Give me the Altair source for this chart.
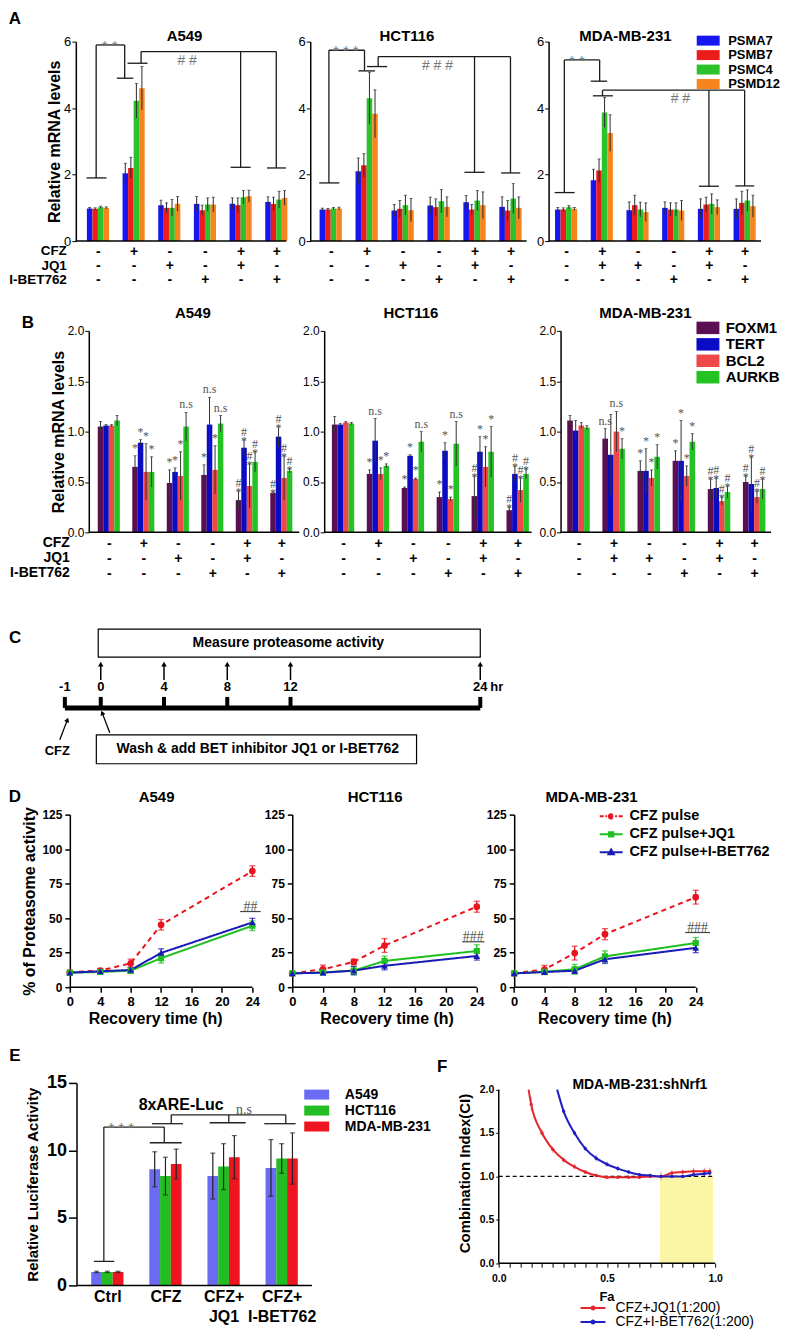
import json
import altair as alt
import pandas as pd

FONT = "Liberation Sans"
SERIF = "Liberation Serif"

# ---------------- treatment design (panels A and B) ----------------
TREAT_ROWS = ["CFZ", "JQ1", "I-BET762"]
CONDITIONS = [0, 1, 2, 3, 4, 5]
CFZ_SIGNS = ["-", "+", "-", "-", "+", "+"]
JQ1_SIGNS = ["-", "-", "+", "-", "+", "-"]
JQ1_SIGNS_MDA = ["-", "+", "+", "-", "+", "-"]
IBET_SIGNS = ["-", "-", "-", "+", "-", "+"]

# ---------------- Panel A: proteasome subunit mRNA ----------------
A_GENES = ["PSMA7", "PSMB7", "PSMC4", "PSMD12"]
A_COLORS = ["#1616f0", "#ec1c1c", "#2bc22b", "#f7851d"]
A549_A_MEAN = [[0.98, 0.97, 1.02, 1.00], [2.04, 2.20, 4.22, 4.60], [1.08, 1.00, 1.00, 1.12],
               [1.12, 0.93, 1.10, 1.10], [1.12, 1.08, 1.32, 1.35], [1.18, 1.12, 1.25, 1.30]]
A549_A_ERR = [[0.03, 0.03, 0.03, 0.03], [0.30, 0.32, 0.52, 0.65], [0.15, 0.15, 0.25, 0.22],
              [0.22, 0.15, 0.20, 0.22], [0.18, 0.22, 0.20, 0.18], [0.15, 0.20, 0.25, 0.22]]
HCT116_A_MEAN = [[0.95, 0.95, 0.98, 0.98], [2.10, 2.28, 4.30, 3.83], [0.92, 0.97, 1.08, 0.93],
                 [1.07, 1.02, 1.20, 1.03], [1.17, 0.95, 1.22, 1.08], [1.03, 0.92, 1.28, 1.00]]
HCT116_A_ERR = [[0.04, 0.03, 0.03, 0.04], [0.40, 0.35, 0.78, 0.72], [0.18, 0.25, 0.30, 0.35],
                [0.25, 0.25, 0.35, 0.30], [0.20, 0.15, 0.30, 0.40], [0.30, 0.30, 0.45, 0.33]]
MDA_A_MEAN = [[0.95, 0.95, 1.02, 0.97], [1.83, 2.12, 3.87, 3.25], [0.93, 1.08, 0.95, 0.87],
              [1.00, 0.95, 0.95, 0.92], [0.97, 1.10, 1.12, 1.02], [0.97, 1.15, 1.22, 1.05]]
MDA_A_ERR = [[0.06, 0.05, 0.05, 0.04], [0.33, 0.35, 0.45, 0.55], [0.25, 0.30, 0.22, 0.28],
             [0.18, 0.20, 0.20, 0.30], [0.30, 0.22, 0.30, 0.22], [0.30, 0.35, 0.32, 0.33]]
# significance bracket heights: ctrl cap, CFZ cap, star top, CFZ cap 2, hash top, cap cond5, cap cond6
A549_A_BRACKET_Y = [1.90, 4.90, 5.90, 5.35, 5.70, 2.22, 2.20]
HCT116_A_BRACKET_Y = [1.75, 5.12, 5.74, 5.25, 5.55, 2.07, 2.05]
MDA_A_BRACKET_Y = [1.46, 4.81, 5.45, 4.37, 4.54, 1.65, 1.66]
A549_A_BRACKET_X = [0.75, 0.76, 1.11, 1.21]
HCT116_A_BRACKET_X = [0.94, 1.00, 1.29, 1.32]
MDA_A_BRACKET_X = [0.94, 0.92, 1.03, 1.02]

# ---------------- Panel B: target gene mRNA ----------------
B_GENES = ["FOXM1", "TERT", "BCL2", "AURKB"]
B_COLORS = ["#5a0f52", "#0b0bc6", "#f04848", "#22c322"]
A549_B_MEAN = [[1.05, 1.06, 1.06, 1.11], [0.65, 0.89, 0.60, 0.60], [0.49, 0.60, 0.56, 1.05],
               [0.57, 1.07, 0.62, 1.08], [0.32, 0.84, 0.46, 0.70], [0.39, 0.95, 0.54, 0.61]]
A549_B_ERR = [[0.05, 0.01, 0.01, 0.05], [0.11, 0.03, 0.28, 0.15], [0.13, 0.04, 0.24, 0.14],
              [0.10, 0.27, 0.24, 0.08], [0.09, 0.08, 0.22, 0.10], [0.01, 0.10, 0.22, 0.02]]
A549_B_SIG = [["", "", "", ""], ["*", "*", "*", "*"], ["*", "*", "*", "n.s"], ["*", "n.s", "*", "n.s"],
              ["#\n*", "#\n*", "#\n*", "#\n*"], ["#\n*", "#\n*", "#\n*", "#\n*"]]
HCT116_B_MEAN = [[1.07, 1.07, 1.09, 1.08], [0.58, 0.91, 0.58, 0.66], [0.44, 0.76, 0.53, 0.90],
                 [0.35, 0.81, 0.33, 0.88], [0.36, 0.80, 0.65, 0.80], [0.22, 0.58, 0.42, 0.58]]
HCT116_B_ERR = [[0.08, 0.01, 0.01, 0.01], [0.04, 0.22, 0.06, 0.02], [0.01, 0.01, 0.01, 0.10],
                [0.05, 0.08, 0.02, 0.22], [0.20, 0.15, 0.20, 0.25], [0.03, 0.08, 0.12, 0.05]]
HCT116_B_SIG = [["", "", "", ""], ["*", "n.s", "*", "*"], ["*", "*", "*", "n.s"], ["*", "*", "*", "n.s"],
                ["#\n*", "*", "*", "*"], ["#\n*", "#\n*", "#\n*", "#\n*"]]
MDA_B_MEAN = [[1.11, 1.01, 1.06, 1.04], [0.93, 0.77, 1.00, 0.83], [0.61, 0.61, 0.54, 0.75],
              [0.71, 0.71, 0.56, 0.90], [0.43, 0.44, 0.31, 0.40], [0.50, 0.48, 0.35, 0.43]]
MDA_B_ERR = [[0.05, 0.10, 0.03, 0.02], [0.10, 0.40, 0.20, 0.10], [0.10, 0.22, 0.08, 0.12],
             [0.10, 0.40, 0.10, 0.08], [0.10, 0.10, 0.04, 0.06], [0.06, 0.27, 0.06, 0.10]]
MDA_B_SIG = [["", "", "", ""], ["n.s", "", "n.s", "*"], ["*", "*", "*", "*"], ["*", "*", "*", "*"],
             ["#\n*", "#\n*", "#\n*", "#\n*"], ["#\n*", "#\n*", "#\n*", "#\n*"]]

# ---------------- Panel C: schedule ----------------
C_TICK_HOURS = ["-1", "0", "4", "8", "12", "24"]
C_TICK_POS = [-2.27, 0, 4, 8, 12, 24]          # -1 h drawn closer (axis break)
C_ASSAY_HOURS = [0, 4, 8, 12, 24]
C_TEXT_TOP = "Measure proteasome activity"
C_TEXT_BOTTOM = "Wash & add BET inhibitor JQ1 or I-BET762"

# ---------------- Panel D: proteasome activity recovery ----------------
D_TIMES = [0, 4, 8, 12, 24]
D_SERIES = ["CFZ pulse", "CFZ pulse+JQ1", "CFZ pulse+I-BET762"]
D_COLORS = ["#e8141e", "#1fbf1f", "#1a1ab4"]
D_MARKERS = ["circle", "square", "triangle-up"]
A549_D_CFZ = [10.8, 12.0, 17.3, 45.2, 84.1]
A549_D_CFZ_ERR = [1.0, 1.5, 3.0, 3.8, 3.8]
A549_D_JQ1 = [10.5, 11.0, 12.0, 21.0, 44.5]
A549_D_JQ1_ERR = [1.0, 1.5, 2.0, 3.5, 3.5]
A549_D_IBET = [10.5, 11.5, 12.5, 24.8, 46.9]
A549_D_IBET_ERR = [1.0, 1.5, 2.0, 3.0, 3.0]
HCT116_D_CFZ = [10.0, 13.0, 18.3, 30.2, 58.3]
HCT116_D_CFZ_ERR = [1.0, 3.0, 2.0, 5.0, 4.0]
HCT116_D_JQ1 = [10.0, 10.7, 12.0, 19.0, 26.2]
HCT116_D_JQ1_ERR = [1.0, 1.5, 3.0, 3.5, 4.5]
HCT116_D_IBET = [10.0, 10.5, 12.0, 15.5, 22.6]
HCT116_D_IBET_ERR = [1.0, 1.5, 3.0, 3.0, 3.0]
MDA_D_CFZ = [10.0, 12.8, 24.7, 38.4, 65.2]
MDA_D_CFZ_ERR = [1.0, 3.0, 5.0, 4.0, 5.0]
MDA_D_JQ1 = [10.0, 11.1, 13.0, 22.3, 32.0]
MDA_D_JQ1_ERR = [1.0, 2.0, 3.5, 4.0, 4.0]
MDA_D_IBET = [10.0, 11.0, 11.9, 20.2, 28.5]
MDA_D_IBET_ERR = [1.0, 1.5, 2.0, 3.0, 3.5]

# ---------------- Panel E: luciferase ----------------
E_GROUPS = [["Ctrl"], ["CFZ"], ["CFZ+", "JQ1"], ["CFZ+", "I-BET762"]]
E_LINES = ["A549", "HCT116", "MDA-MB-231"]
E_COLORS = ["#6a6af2", "#22bd22", "#ef1520"]
E_A549 = [1.0, 8.6, 8.1, 8.7]
E_A549_ERR = [0.05, 1.3, 1.7, 2.1]
E_HCT116 = [1.0, 8.1, 8.8, 9.4]
E_HCT116_ERR = [0.05, 1.4, 1.7, 1.1]
E_MDA = [1.0, 9.0, 9.5, 9.4]
E_MDA_ERR = [0.05, 1.1, 1.6, 1.9]

# ---------------- Panel F: combination index ----------------
F_SERIES = ["CFZ+JQ1(1:200)", "CFZ+I-BET762(1:200)"]
F_COLORS = ["#e3262b", "#1f1fc4"]
F_FA_JQ1 = [0.138, 0.15, 0.20, 0.25, 0.30, 0.35, 0.40, 0.45, 0.50, 0.55, 0.60, 0.65, 0.70, 0.75, 0.80, 0.85, 0.90, 0.95, 0.975]
F_CI_JQ1 = [2.00, 1.83, 1.50, 1.31, 1.19, 1.11, 1.05, 1.01, 0.99, 0.99, 0.99, 0.99, 1.00, 1.00, 1.04, 1.05, 1.06, 1.06, 1.06]
F_ERR_JQ1 = [0.0, 0.08, 0.04, 0.04, 0.03, 0.03, 0.02, 0.02, 0.02, 0.02, 0.02, 0.02, 0.02, 0.05, 0.03, 0.03, 0.04, 0.04, 0.04]
F_FA_IBET = [0.27, 0.30, 0.35, 0.40, 0.45, 0.50, 0.55, 0.60, 0.65, 0.70, 0.75, 0.80, 0.85, 0.90, 0.95, 0.975]
F_CI_IBET = [2.00, 1.75, 1.50, 1.32, 1.21, 1.14, 1.09, 1.05, 1.02, 1.01, 1.00, 1.00, 1.00, 1.02, 1.03, 1.04]
F_ERR_IBET = [0.0, 0.03, 0.03, 0.03, 0.04, 0.03, 0.03, 0.02, 0.02, 0.02, 0.02, 0.02, 0.02, 0.02, 0.03, 0.03]
F_SYNERGY_FA = [0.745, 0.99]
F_REF_CI = 1.0

RECT_A = "M-2.3,-1H2.3V1H-2.3Z"
RECT_B = "M-1.84,-1H1.84V1H-1.84Z"
RECT_E = "M-2.5,-1H2.5V1H-2.5Z"
D_LEGEND_SYMBOLS = [
    "M-2.3,0H-1.5M-1.15,0H-0.8M0.8,0H1.15M1.5,0H2.3M-0.45,0A0.45,0.45 0 1,1 0.45,0A0.45,0.45 0 1,1 -0.45,0Z",
    "M-2.3,0H2.3M-0.42,-0.42H0.42V0.42H-0.42Z",
    "M-2.3,0H2.3M0,-0.55L0.55,0.42H-0.55Z",
]
F_LEGEND_SYMBOL = "M-2.5,0H2.5M-0.3,0A0.3,0.3 0 1,1 0.3,0A0.3,0.3 0 1,1 -0.3,0Z"

# ---------------- page layout (page pixels) ----------------
ROW_BOUNDS = {"A": (8, 296), "B": (296, 600), "C": (600, 780), "D": (780, 1038), "EF": (1038, 1300)}


def frame(L, R, axis_px, dom, vis_w):
    """Panel spanning page x L..R whose y axis sits at axis_px and whose visible domain spans vis_w px."""
    k = vis_w / (dom[1] - dom[0])
    return dict(L=L, domain=[dom[0] + (L - axis_px) / k, dom[0] + (R - axis_px) / k],
                width=R - L, lead=axis_px - L)


def text_mark(text, x, y, size, weight="bold", opacity=1.0, align="center",
              baseline="middle", font=FONT, color="black", line_height=None):
    kw = dict(font=font, fontSize=size, fontWeight=weight, opacity=opacity, align=align,
              baseline=baseline, color=color)
    if line_height is not None:
        kw["lineBreak"] = "\n"
        kw["lineHeight"] = line_height
    return alt.Chart(pd.DataFrame({"t": [text]})).mark_text(**kw).encode(
        text="t:N", x=alt.value(x), y=alt.value(y))


def ghost(row, top_y):
    """Invisible rule fixing the row's vertical extent on the page."""
    top, bottom = ROW_BOUNDS[row]
    return alt.Chart(pd.DataFrame({"g": [0]})).mark_rule(opacity=0, strokeWidth=0.1).encode(
        x=alt.value(0), y=alt.value(top - top_y), y2=alt.value(bottom - top_y))


def bar_frame(means, errs, genes, bw, sig=None):
    rows = []
    ng = len(genes)
    for c in range(len(means)):
        for g in range(ng):
            m = means[c][g]
            e = errs[c][g]
            xc = c + (g - (ng - 1) / 2) * bw
            rows.append(dict(cond=c, gene=genes[g], mean=m, lo=m - e, hi=m + e, xc=xc,
                             x0=xc - bw / 2, x1=xc + bw / 2, sig=(sig[c][g] if sig else "")))
    return pd.DataFrame(rows)


def sign_label_expr(jq1):
    arr = [[c, j, i] for c, j, i in zip(CFZ_SIGNS, jq1, IBET_SIGNS)]
    return json.dumps(arr) + "[datum.value]"


def a_segments(bys, bxs):
    c0, c1, top, c1b, top2, c4, c5 = bys
    sxr, c1x, c1bx, hx = bxs
    segs = [(-0.32, 0.24, c0, c0), (-0.05, -0.05, c0, top), (-0.05, sxr, top, top),
            (sxr, sxr, top, c1), (c1x - 0.23, c1x + 0.23, c1, c1),
            (c1bx - 0.28, c1bx + 0.28, c1b, c1b), (hx, hx, c1b, top2), (hx, 5.0, top2, top2),
            (4.0, 4.0, top2, c4), (3.72, 4.28, c4, c4), (5.0, 5.0, top2, c5), (4.74, 5.27, c5, c5)]
    return pd.DataFrame(segs, columns=["bx", "bx2", "by", "by2"])


def panel_a(cell, means, errs, jq1, fr, dom, title_px, bys, bxs, star, star_x, hashes, hash_x,
            first=False, legend=False):
    H, top_y, L, lead = 200, 40, fr["L"], fr["lead"]
    df = bar_frame(means, errs, A_GENES, 0.155)
    xs = alt.Scale(domain=fr["domain"], nice=False, zero=False)
    ys = alt.Scale(domain=[0, 6], nice=False)
    xaxis = alt.Axis(values=CONDITIONS, labelExpr=sign_label_expr(jq1), ticks=False, tickSize=0,
                     labelPadding=3, labelFontSize=14, labelFontWeight="bold", labelLineHeight=14.5,
                     labelOverlap=False, labelFlush=False, labelBaseline="top", title=None,
                     grid=False, domain=False)
    yaxis = alt.Axis(values=[0, 2, 4, 6], title=("Relative mRNA levels" if first else None),
                     tickSize=4, labelPadding=1, labelFontSize=13, titleFontSize=16, offset=-lead,
                     titleFontWeight="bold", titlePadding=1, grid=False, domainWidth=1.5)

    def X(f):
        return alt.X(f"{f}:Q", scale=xs, axis=xaxis)

    def Y(f):
        return alt.Y(f"{f}:Q", scale=ys, axis=yaxis)

    leg = alt.Legend(orient="none", legendX=703.5 - L, legendY=-7.5, title=None, symbolType=RECT_A,
                     symbolSize=100, symbolStrokeWidth=0, labelFontSize=13, labelFontWeight="bold",
                     labelOffset=13.5, rowPadding=0.5, padding=0) if legend else None
    color = alt.Color("gene:N", scale=alt.Scale(domain=A_GENES, range=A_COLORS), legend=leg)
    base = alt.Chart(pd.DataFrame({"x0": [dom[0]], "x1": [dom[1]], "y": [0]})).mark_rule(
        color="black", strokeWidth=1.5).encode(x=X("x0"), x2="x1", y=Y("y"))
    bars = alt.Chart(df).mark_bar().encode(x=X("x0"), x2="x1", y=Y("mean"), y2=alt.datum(0), color=color)
    err = alt.Chart(df).mark_rule(color="#2a2a2a", strokeWidth=1).encode(x=X("xc"), y=Y("lo"), y2="hi")
    caps = alt.Chart(df).mark_tick(orient="horizontal", size=3, thickness=1, color="#2a2a2a").encode(
        x=X("xc"), y=Y("hi"))
    br = alt.Chart(a_segments(bys, bxs)).mark_rule(color="#1a1a1a", strokeWidth=1.3).encode(
        x=X("bx"), x2="bx2", y=Y("by"), y2="by2")
    lab_star = alt.Chart(pd.DataFrame({"bx": [star_x], "by": [bys[2]], "t": [star]})).mark_text(
        font=FONT, fontSize=15, color="#777777", baseline="alphabetic", dy=6).encode(
        x=X("bx"), y=Y("by"), text="t:N")
    lab_hash = alt.Chart(pd.DataFrame({"bx": [hash_x], "by": [bys[4]], "t": [hashes]})).mark_text(
        font=FONT, fontSize=14, color="#777777", baseline="top", dy=2).encode(
        x=X("bx"), y=Y("by"), text="t:N")
    layers = [bars, base, err, caps, br, lab_star, lab_hash,
              text_mark(cell, title_px - L, -6, 15), ghost("A", top_y)]
    if first:
        layers.append(text_mark("A", 15 - L, -22.5, 17))
        layers.append(text_mark("\n".join(TREAT_ROWS), 67 - L, H + 3, 13.5, align="right",
                                baseline="top", line_height=14.5))
    return alt.layer(*layers).properties(width=fr["width"], height=H)


def panel_b(cell, means, errs, sig, jq1, fr, dom, title_px, first=False, legend=False):
    H, top_y, L, lead = 202, 330, fr["L"], fr["lead"]
    df = bar_frame(means, errs, B_GENES, 0.16, sig)
    xs = alt.Scale(domain=fr["domain"], nice=False, zero=False)
    ys = alt.Scale(domain=[0, 2], nice=False)
    xaxis = alt.Axis(values=CONDITIONS, labelExpr=sign_label_expr(jq1), ticks=False, tickSize=0,
                     labelPadding=4, labelFontSize=14, labelFontWeight="bold", labelLineHeight=15,
                     labelOverlap=False, labelFlush=False, labelBaseline="top", title=None,
                     grid=False, domain=False)
    yaxis = alt.Axis(values=[0, 0.5, 1, 1.5, 2], format=".1f",
                     title=("Relative mRNA levels" if first else None), offset=-lead,
                     tickSize=4, labelPadding=1, labelFontSize=12, titleFontSize=16,
                     titleFontWeight="bold", titlePadding=1, grid=False, domainWidth=1.5)

    def X(f):
        return alt.X(f"{f}:Q", scale=xs, axis=xaxis)

    def Y(f):
        return alt.Y(f"{f}:Q", scale=ys, axis=yaxis)

    leg = alt.Legend(orient="none", legendX=702.25 - L, legendY=-10.5, title=None, symbolType=RECT_B,
                     symbolSize=156, symbolStrokeWidth=0, labelFontSize=15, labelFontWeight="bold",
                     labelOffset=10.25, rowPadding=0.5, padding=0) if legend else None
    color = alt.Color("gene:N", scale=alt.Scale(domain=B_GENES, range=B_COLORS), legend=leg)
    base = alt.Chart(pd.DataFrame({"x0": [dom[0]], "x1": [dom[1]], "y": [0]})).mark_rule(
        color="black", strokeWidth=1.5).encode(x=X("x0"), x2="x1", y=Y("y"))
    bars = alt.Chart(df).mark_bar().encode(x=X("x0"), x2="x1", y=Y("mean"), y2=alt.datum(0), color=color)
    err = alt.Chart(df).mark_rule(color="#333333", strokeWidth=1).encode(x=X("xc"), y=Y("lo"), y2="hi")
    caps = alt.Chart(df).mark_tick(orient="horizontal", size=3, thickness=1, color="#333333").encode(
        x=X("xc"), y=Y("hi"))
    sig_txt = alt.Chart(df).transform_filter("datum.sig != ''").mark_text(
        font=SERIF, fontSize=12, color="#555555", baseline="bottom", lineBreak="\n",
        lineHeight=9, dy=-1).encode(x=X("xc"), y=Y("hi"), text="sig:N")
    layers = [bars, base, err, caps, sig_txt, text_mark(cell, title_px - L, -18, 15), ghost("B", top_y)]
    if first:
        layers.append(text_mark("B", 28 - L, -8, 17))
        layers.append(text_mark("\n".join(TREAT_ROWS), 70 - L, H + 4, 14, align="right",
                                baseline="top", line_height=15))
    return alt.layer(*layers).properties(width=fr["width"], height=H)


def panel_c():
    W, H = 500, 150
    xs = alt.Scale(domain=[-5.866, 25.672], nice=False, zero=False)
    ys = alt.Scale(domain=[0, H], nice=False, reverse=True)

    def X(f):
        return alt.X(f"{f}:Q", scale=xs, axis=None)

    def Y(f):
        return alt.Y(f"{f}:Q", scale=ys, axis=None)

    boxes = pd.DataFrame({"x0": [-0.16, -0.28], "x1": [24.0, 19.97], "y0": [9, 115], "y1": [37, 144],
                          "xt": [11.86, 9.93], "yt": [23, 129.5], "t": [C_TEXT_TOP, C_TEXT_BOTTOM]})
    box = alt.Chart(boxes).mark_rect(fill="white", stroke="black", strokeWidth=1.2).encode(
        x=X("x0"), x2="x1", y=Y("y0"), y2="y1")
    box_txt = alt.Chart(boxes).mark_text(font=FONT, fontSize=14, fontWeight="bold").encode(
        x=X("xt"), y=Y("yt"), text="t:N")
    line = alt.Chart(pd.DataFrame({"x0": [C_TICK_POS[0]], "x1": [C_TICK_POS[-1]], "y": [88]})).mark_rule(
        strokeWidth=5, color="black").encode(x=X("x0"), x2="x1", y=Y("y"))
    ticks_df = pd.DataFrame({"x": C_TICK_POS, "y0": [77] * 6, "y1": [88] * 6, "lab": C_TICK_HOURS,
                             "ly": [67] * 6})
    ticks = alt.Chart(ticks_df).mark_rule(strokeWidth=4, color="black").encode(
        x=X("x"), y=Y("y0"), y2="y1")
    tick_lab = alt.Chart(ticks_df).mark_text(font=FONT, fontSize=13, fontWeight="bold").encode(
        x=X("x"), y=Y("ly"), text="lab:N")
    hr_lab = alt.Chart(pd.DataFrame({"x": [C_TICK_POS[-1]], "y": [67], "t": ["hr"]})).mark_text(
        font=FONT, fontSize=13, fontWeight="bold", align="left", dx=10).encode(
        x=X("x"), y=Y("y"), text="t:N")
    arr_df = pd.DataFrame({"x": C_ASSAY_HOURS, "y0": [60] * 5, "y1": [44] * 5})
    arrows = alt.Chart(arr_df).mark_rule(strokeWidth=1.5, color="black").encode(x=X("x"), y=Y("y0"), y2="y1")
    heads = alt.Chart(arr_df).mark_point(shape="triangle-up", filled=True, size=30, color="black",
                                         opacity=1).encode(x=X("x"), y=Y("y1"))
    slant = pd.DataFrame({"x0": [-2.59, 0.57], "y0": [120, 113], "x1": [-2.11, 0.09], "y1": [100, 93]})
    slant_l = alt.Chart(slant).mark_rule(strokeWidth=1.3, color="black").encode(
        x=X("x0"), x2="x1", y=Y("y0"), y2="y1")
    head1 = alt.Chart(slant.iloc[[0]]).mark_point(shape="triangle-up", filled=True, size=28, color="black",
                                                  angle=21, opacity=1).encode(x=X("x1"), y=Y("y1"))
    head2 = alt.Chart(slant.iloc[[1]]).mark_point(shape="triangle-up", filled=True, size=28, color="black",
                                                  angle=339, opacity=1).encode(x=X("x1"), y=Y("y1"))
    cfz = alt.Chart(pd.DataFrame({"x": [-2.75], "y": [131], "t": ["CFZ"]})).mark_text(
        font=FONT, fontSize=13, fontWeight="bold").encode(x=X("x"), y=Y("y"), text="t:N")
    letter = alt.Chart(pd.DataFrame({"x": [-5.42], "y": [18], "t": ["C"]})).mark_text(
        font=FONT, fontSize=17, fontWeight="bold").encode(x=X("x"), y=Y("y"), text="t:N")
    return alt.layer(box, box_txt, line, ticks, tick_lab, hr_lab, arrows, heads, slant_l, head1, head2,
                     cfz, letter, ghost("C", 620)).properties(width=W, height=H)


def panel_d(cell, vals, errs, fr, title_px, xtitle_px, hashes, hash_y, hx0, hx1, first=False, legend=False):
    H, top_y, L, lead = 173, 815, fr["L"], fr["lead"]
    rows = []
    for s, vv, ee in zip(D_SERIES, vals, errs):
        for t, v, e in zip(D_TIMES, vv, ee):
            rows.append(dict(series=s, t=t, v=v, lo=v - e, hi=v + e))
    df = pd.DataFrame(rows)
    xs = alt.Scale(domain=fr["domain"], nice=False, zero=False)
    ys = alt.Scale(domain=[0, 125], nice=False)
    xaxis = alt.Axis(values=[0, 4, 8, 12, 16, 20, 24], title=None,
                     tickSize=5, labelPadding=3, labelFontSize=13, labelFontWeight="bold",
                     labelFlush=False, grid=False, domain=False, tickWidth=1.5)
    yaxis = alt.Axis(values=[0, 25, 50, 75, 100, 125], offset=-lead,
                     title=("% of Proteasome activity" if first else None), tickSize=5,
                     labelPadding=3, labelFontSize=12, labelFontWeight="bold", titleFontSize=16,
                     titleFontWeight="bold", titlePadding=4, grid=False, domainWidth=1.5, tickWidth=1.5)

    def X(f):
        return alt.X(f"{f}:Q", scale=xs, axis=xaxis)

    def Y(f):
        return alt.Y(f"{f}:Q", scale=ys, axis=yaxis)

    cscale = alt.Scale(domain=D_SERIES, range=D_COLORS)
    col = alt.Color("series:N", scale=cscale, legend=None)
    dash = alt.StrokeDash("series:N", scale=alt.Scale(domain=D_SERIES, range=[[5, 4], [1, 0], [1, 0]]),
                          legend=None)
    layers = []
    if legend:
        # invisible layer that carries the legend (line + marker symbols)
        leg = alt.Legend(orient="none", legendX=605 - L, legendY=-5.5, title=None, symbolSize=100,
                         symbolStrokeWidth=2, symbolOpacity=1, labelFontSize=14.5, labelFontWeight="bold",
                         labelOffset=11, rowPadding=3, padding=0)
        layers.append(alt.Chart(df).mark_point(opacity=0, strokeWidth=2, filled=False).encode(
            x=X("t"), y=Y("v"),
            color=alt.Color("series:N", scale=cscale, legend=leg),
            shape=alt.Shape("series:N", scale=alt.Scale(domain=D_SERIES, range=D_LEGEND_SYMBOLS),
                            legend=leg)))
    layers.append(alt.Chart(pd.DataFrame({"x0": [0], "x1": [24], "y": [0]})).mark_rule(
        color="black", strokeWidth=1.5).encode(x=X("x0"), x2="x1", y=Y("y")))
    layers.append(alt.Chart(df).mark_rule(strokeWidth=1.3).encode(x=X("t"), y=Y("lo"), y2="hi", color=col))
    layers.append(alt.Chart(df).mark_tick(orient="horizontal", size=6, thickness=1.3).encode(
        x=X("t"), y=Y("hi"), color=col))
    layers.append(alt.Chart(df).mark_tick(orient="horizontal", size=6, thickness=1.3).encode(
        x=X("t"), y=Y("lo"), color=col))
    layers.append(alt.Chart(df).mark_line(strokeWidth=2).encode(
        x=X("t"), y=Y("v"), color=col, strokeDash=dash))
    for s, shp, sz in zip(D_SERIES, D_MARKERS, [45, 38, 45]):
        layers.append(alt.Chart(df).transform_filter(alt.datum.series == s).mark_point(
            shape=shp, filled=True, size=sz, opacity=1).encode(x=X("t"), y=Y("v"), color=col))
    ann = pd.DataFrame({"x0": [hx0], "x1": [hx1], "xm": [(hx0 + hx1) / 2], "y": [hash_y], "t": [hashes]})
    layers.append(alt.Chart(ann).mark_rule(color="#444444", strokeWidth=1.2).encode(
        x=X("x0"), x2="x1", y=Y("y")))
    layers.append(alt.Chart(ann).mark_text(font=SERIF, fontSize=14, color="#555555",
                                           baseline="alphabetic", dy=-1).encode(
        x=X("xm"), y=Y("y"), text="t:N"))
    layers.append(text_mark(cell, title_px - L, -18, 15))
    layers.append(text_mark("Recovery time (h)", xtitle_px - L, H + 32, 16))
    layers.append(ghost("D", top_y))
    if first:
        layers.append(text_mark("D", 15 - L, -18, 17))
    return alt.layer(*layers).properties(width=fr["width"], height=H)


def panel_e(fr, dom):
    H, top_y, L, lead = 203, 1083.3, fr["L"], fr["lead"]
    means = [list(v) for v in zip(E_A549, E_HCT116, E_MDA)]
    errs = [list(v) for v in zip(E_A549_ERR, E_HCT116_ERR, E_MDA_ERR)]
    df = bar_frame(means, errs, E_LINES, 0.185)
    xs = alt.Scale(domain=fr["domain"], nice=False, zero=False)
    ys = alt.Scale(domain=[0, 15], nice=False)
    xaxis = alt.Axis(values=[0, 1, 2, 3], labelExpr=json.dumps(E_GROUPS) + "[datum.value]", ticks=False,
                     tickSize=0, labelPadding=3, labelFontSize=16, labelFontWeight="bold",
                     labelLineHeight=20, labelOverlap=False, labelFlush=False, labelBaseline="top",
                     title=None, grid=False, domain=False)
    yaxis = alt.Axis(values=[0, 5, 10, 15], title="Relative Luciferase Activity", tickSize=8, offset=-lead,
                     labelPadding=2, labelFontSize=18, labelFontWeight="bold", titleFontSize=15,
                     titleFontWeight="bold", titlePadding=6, grid=False, domainWidth=1.5, tickWidth=1.5)

    def X(f):
        return alt.X(f"{f}:Q", scale=xs, axis=xaxis)

    def Y(f):
        return alt.Y(f"{f}:Q", scale=ys, axis=yaxis)

    leg = alt.Legend(orient="none", legendX=310.5 - L, legendY=4.7, title=None, symbolType=RECT_E,
                     symbolSize=100, symbolStrokeWidth=0, labelFontSize=14, labelFontWeight="bold",
                     labelOffset=21.2, rowPadding=2, padding=0)
    color = alt.Color("gene:N", scale=alt.Scale(domain=E_LINES, range=E_COLORS), legend=leg)
    base = alt.Chart(pd.DataFrame({"x0": [dom[0]], "x1": [dom[1]], "y": [0]})).mark_rule(
        color="black", strokeWidth=1.5).encode(x=X("x0"), x2="x1", y=Y("y"))
    bars = alt.Chart(df).mark_bar().encode(x=X("x0"), x2="x1", y=Y("mean"), y2=alt.datum(0), color=color)
    err = alt.Chart(df).mark_rule(color="#222222", strokeWidth=1.2).encode(x=X("xc"), y=Y("lo"), y2="hi")
    cap_hi = alt.Chart(df).mark_tick(orient="horizontal", size=5, thickness=1.2, color="#222222").encode(
        x=X("xc"), y=Y("hi"))
    cap_lo = alt.Chart(df).mark_tick(orient="horizontal", size=5, thickness=1.2, color="#222222").encode(
        x=X("xc"), y=Y("lo"))
    segs = pd.DataFrame([(-0.23, 0.12, 1.78, 1.78), (-0.06, -0.06, 1.78, 11.73), (-0.06, 0.98, 11.73, 11.73),
                         (0.98, 0.98, 11.73, 10.57), (0.73, 1.28, 10.57, 10.57),
                         (0.77, 1.30, 11.98, 11.98), (1.10, 1.10, 11.98, 12.64), (1.10, 3.07, 12.64, 12.64),
                         (1.76, 2.38, 12.05, 12.05), (2.09, 2.09, 12.05, 12.64),
                         (2.70, 3.24, 11.98, 11.98), (3.07, 3.07, 11.98, 12.64)],
                        columns=["bx", "bx2", "by", "by2"])
    br = alt.Chart(segs).mark_rule(color="#222222", strokeWidth=1.3).encode(
        x=X("bx"), x2="bx2", y=Y("by"), y2="by2")
    star = alt.Chart(pd.DataFrame({"x": [0.24], "y": [11.73], "t": ["* * *"]})).mark_text(
        font=FONT, fontSize=15, color="#777777", baseline="alphabetic", dy=6).encode(
        x=X("x"), y=Y("y"), text="t:N")
    ns = alt.Chart(pd.DataFrame({"x": [2.35], "y": [12.64], "t": ["n.s"]})).mark_text(
        font=SERIF, fontSize=14, color="#555555", baseline="alphabetic", dy=-1).encode(
        x=X("x"), y=Y("y"), text="t:N")
    label = alt.Chart(pd.DataFrame({"x": [1.27], "y": [13.4], "t": ["8xARE-Luc"]})).mark_text(
        font=FONT, fontSize=16, fontWeight="bold").encode(x=X("x"), y=Y("y"), text="t:N")
    return alt.layer(bars, base, err, cap_hi, cap_lo, br, star, ns, label,
                     text_mark("E", 15 - L, -26.5, 17),
                     ghost("EF", top_y)).properties(width=fr["width"], height=H)


def panel_f(fr):
    H_VIS = 174
    drop = 6.7                      # F's plot starts this many px below E's
    H = H_VIS + drop
    top_y, L, lead = 1083.3, fr["L"], fr["lead"]
    rows = []
    for s, fa, ci, er in [(F_SERIES[0], F_FA_JQ1, F_CI_JQ1, F_ERR_JQ1),
                          (F_SERIES[1], F_FA_IBET, F_CI_IBET, F_ERR_IBET)]:
        for a, c, e in zip(fa, ci, er):
            rows.append(dict(series=s, fa=a, ci=c, lo=c - e, hi=c + e))
    df = pd.DataFrame(rows)
    xs = alt.Scale(domain=fr["domain"], nice=False, zero=False)
    ys = alt.Scale(domain=[0, 2 + drop * 2 / H_VIS], nice=False)
    xaxis = alt.Axis(values=[round(i * 0.05, 2) for i in range(21)],
                     labelExpr="(datum.value == 0 || datum.value == 0.5 || datum.value == 1) ? format(datum.value, '.1f') : ''",
                     tickSize=4, labelPadding=6, labelFontSize=10.5, labelFontWeight="bold",
                     labelFlush=False, labelOverlap=False, title=None, grid=False, domain=False)
    yaxis = alt.Axis(values=[0, 0.5, 1, 1.5, 2], format=".1f", title="Combination Index(CI)", tickSize=3,
                     labelPadding=2, labelFontSize=10.5, labelFontWeight="bold", titleFontSize=15,
                     titleFontWeight="bold", titlePadding=7, grid=False, domain=False, offset=-lead)

    def X(f):
        return alt.X(f"{f}:Q", scale=xs, axis=xaxis)

    def Y(f):
        return alt.Y(f"{f}:Q", scale=ys, axis=yaxis)

    cscale = alt.Scale(domain=F_SERIES, range=F_COLORS)
    leg = alt.Legend(orient="none", legendX=587.5 - L, legendY=218.7, title=None,
                     symbolType=F_LEGEND_SYMBOL, symbolSize=100, symbolStrokeWidth=2,
                     labelFontSize=14, labelOffset=15.5, rowPadding=0, padding=0)
    axes_lines = alt.Chart(pd.DataFrame({"x0": [0, 0], "x1": [0, 1], "y0": [0, 0], "y1": [2, 0]})).mark_rule(
        color="black", strokeWidth=1.5).encode(x=X("x0"), x2="x1", y=Y("y0"), y2="y1")
    shade = alt.Chart(pd.DataFrame({"x0": [F_SYNERGY_FA[0]], "x1": [F_SYNERGY_FA[1]], "y0": [0],
                                    "y1": [F_REF_CI]})).mark_rect(color="#fbf6a6").encode(
        x=X("x0"), x2="x1", y=Y("y0"), y2="y1")
    ref = alt.Chart(pd.DataFrame({"x0": [0], "x1": [1], "y": [F_REF_CI]})).mark_rule(
        color="black", strokeWidth=1.3, strokeDash=[4, 3]).encode(x=X("x0"), x2="x1", y=Y("y"))
    lines = alt.Chart(df).mark_line(strokeWidth=2, interpolate="monotone").encode(
        x=X("fa"), y=Y("ci"), color=alt.Color("series:N", scale=cscale, legend=leg))
    err = alt.Chart(df).transform_filter("datum.ci < 1.99").mark_rule(strokeWidth=1, opacity=0.45).encode(
        x=X("fa"), y=Y("lo"), y2="hi", color=alt.Color("series:N", scale=cscale, legend=None))
    pts = alt.Chart(df).transform_filter("datum.ci < 1.99").mark_point(filled=True, size=12, opacity=1).encode(
        x=X("fa"), y=Y("ci"), color=alt.Color("series:N", scale=cscale, legend=None))
    return alt.layer(shade, ref, lines, axes_lines, err, pts,
                     text_mark("MDA-MB-231:shNrf1", 641.5 - L, 1085 - top_y, 14),
                     text_mark("Fa", 608.5 - L, 1298 - top_y, 13),
                     text_mark("F", 443.3 - L, 1067 - top_y, 17),
                     ghost("EF", top_y)).properties(width=fr["width"], height=H)


RES = dict(color="independent", shape="independent", strokeDash="independent")

A_DOMS = [[-0.62, 5.28], [-0.57, 5.45], [-0.49, 5.46]]
row_a = alt.hconcat(
    panel_a("A549", A549_A_MEAN, A549_A_ERR, JQ1_SIGNS, frame(8, 297, 76, A_DOMS[0], 211), A_DOMS[0], 185,
            A549_A_BRACKET_Y, A549_A_BRACKET_X, "* *", 0.33, "# #", 2.5, first=True),
    panel_a("HCT116", HCT116_A_MEAN, HCT116_A_ERR, JQ1_SIGNS, frame(297, 536, 311, A_DOMS[1], 217), A_DOMS[1],
            408, HCT116_A_BRACKET_Y, HCT116_A_BRACKET_X, "* * *", 0.42, "# # #", 2.97),
    panel_a("MDA-MB-231", MDA_A_MEAN, MDA_A_ERR, JQ1_SIGNS_MDA, frame(536, 781, 550, A_DOMS[2], 213),
            A_DOMS[2], 627, MDA_A_BRACKET_Y, MDA_A_BRACKET_X, "* *", 0.30, "# #", 3.2, legend=True),
    spacing=0).resolve_scale(**RES)

B_DOMS = [[-0.58, 5.52], [-0.54, 5.40], [-0.51, 5.48]]
row_b = alt.hconcat(
    panel_b("A549", A549_B_MEAN, A549_B_ERR, A549_B_SIG, JQ1_SIGNS, frame(8, 302, 89, B_DOMS[0], 211),
            B_DOMS[0], 193.3, first=True),
    panel_b("HCT116", HCT116_B_MEAN, HCT116_B_ERR, HCT116_B_SIG, JQ1_SIGNS, frame(302, 539, 325, B_DOMS[1], 208),
            B_DOMS[1], 412),
    panel_b("MDA-MB-231", MDA_B_MEAN, MDA_B_ERR, MDA_B_SIG, JQ1_SIGNS_MDA, frame(539, 781, 562, B_DOMS[2], 211),
            B_DOMS[2], 647, legend=True),
    spacing=0).resolve_scale(**RES)

row_c = alt.hconcat(panel_c()).resolve_scale(**RES)

D_DOM = [0, 24]
row_d = alt.hconcat(
    panel_d("A549", [A549_D_CFZ, A549_D_JQ1, A549_D_IBET], [A549_D_CFZ_ERR, A549_D_JQ1_ERR, A549_D_IBET_ERR],
            frame(8, 263, 70, D_DOM, 183), 157, 156, "##", 54.8, 22.4, 25.1, first=True),
    panel_d("HCT116", [HCT116_D_CFZ, HCT116_D_JQ1, HCT116_D_IBET],
            [HCT116_D_CFZ_ERR, HCT116_D_JQ1_ERR, HCT116_D_IBET_ERR],
            frame(263, 486.5, 293, D_DOM, 185), 376, 388, "###", 32.9, 22.1, 25.0),
    panel_d("MDA-MB-231", [MDA_D_CFZ, MDA_D_JQ1, MDA_D_IBET], [MDA_D_CFZ_ERR, MDA_D_JQ1_ERR, MDA_D_IBET_ERR],
            frame(486.5, 781, 515, D_DOM, 182), 592.5, 606, "###", 39.6, 22.6, 25.9, legend=True),
    spacing=0).resolve_scale(**RES)

E_DOM = [-0.53, 3.52]
row_ef = alt.hconcat(panel_e(frame(8, 436, 76.7, E_DOM, 236), E_DOM),
                     panel_f(frame(436, 781, 500, [0, 1], 217)), spacing=0).resolve_scale(**RES)

chart = alt.vconcat(row_a, row_b, row_c, row_d, row_ef, spacing=0).resolve_scale(**RES).properties(
    padding=0, background="white"
).configure(font=FONT).configure_view(stroke=None).configure_axis(
    labelFont=FONT, titleFont=FONT, labelColor="black", titleColor="black",
    domainColor="black", tickColor="black", grid=False
).configure_legend(labelFont=FONT, labelColor="black")

chart.save("out.html", embed_options={"renderer": "svg", "actions": False})
